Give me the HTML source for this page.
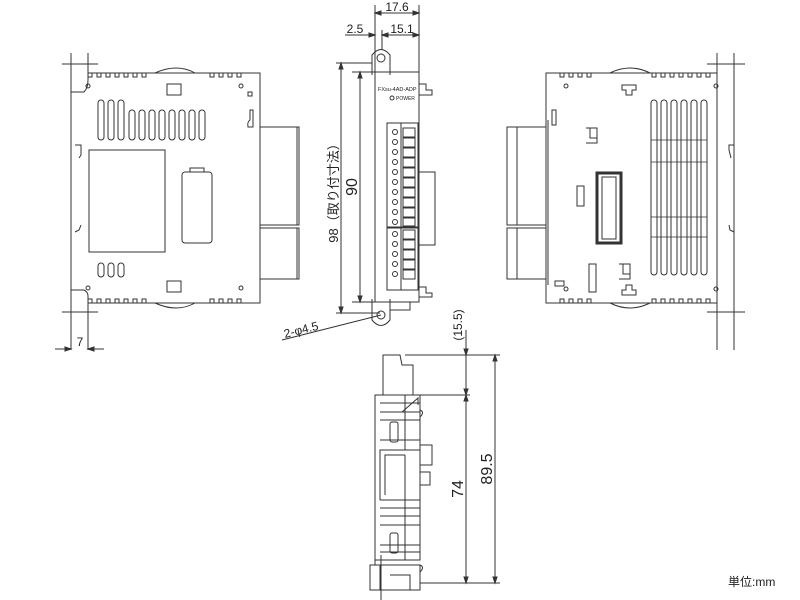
<!DOCTYPE html>
<html><head><meta charset="utf-8"><style>
html,body{margin:0;padding:0;background:#fff;width:800px;height:600px;overflow:hidden}
svg{display:block}
text{font-family:"Liberation Sans","Noto Sans CJK JP",sans-serif;fill:#222}
</style></head><body>
<svg width="800" height="600" viewBox="0 0 800 600" xmlns="http://www.w3.org/2000/svg">
<g fill="none" stroke="#333" stroke-width="1">
<!-- LEFT VIEW -->
<line x1="62" y1="64" x2="98" y2="64"/><line x1="62" y1="312" x2="98" y2="312"/>
<path d="M71 53 V350 M88 53 V80 M88 296 V350"/>
<path d="M71 92 H84 Q88 88 88 80 M71 290 H84 Q88 292 88 296"/>
<path d="M88 80 V73 H260 V303 H88 V296"/>
<path d="M75 145 H81 V155 L79 158 M75 232 L79 230 L81 225"/>
<path d="M155 73 Q177 63 195 73 M155 303 Q177 313 195 303"/>
<g>
<rect x="88" y="73" width="4" height="4"/><rect x="97" y="73" width="4" height="4"/><rect x="106" y="73" width="4" height="4"/><rect x="115" y="73" width="4" height="4"/><rect x="124" y="73" width="4" height="4"/><rect x="133" y="73" width="4" height="4"/><rect x="142" y="73" width="4" height="4"/>
<rect x="210" y="73" width="4" height="4"/><rect x="219" y="73" width="4" height="4"/><rect x="228" y="73" width="4" height="4"/><rect x="237" y="73" width="4" height="4"/>
<rect x="88" y="299" width="4" height="4"/><rect x="97" y="299" width="4" height="4"/><rect x="106" y="299" width="4" height="4"/><rect x="115" y="299" width="4" height="4"/><rect x="124" y="299" width="4" height="4"/><rect x="133" y="299" width="4" height="4"/><rect x="142" y="299" width="4" height="4"/>
<rect x="210" y="299" width="4" height="4"/><rect x="219" y="299" width="4" height="4"/><rect x="228" y="299" width="4" height="4"/><rect x="237" y="299" width="4" height="4"/>
</g>
<circle cx="88" cy="86" r="2"/><circle cx="241" cy="86" r="2"/><circle cx="88" cy="288" r="2"/><circle cx="241" cy="288" r="2"/>
<rect x="167" y="84" width="14" height="11"/><rect x="167" y="281" width="14" height="11"/>
<rect x="248" y="92" width="4" height="4"/><path d="M250 110 H253 V127 H248 Q247 122 250 120 Z"/>
<rect x="98" y="100" width="6" height="40" rx="3"/><rect x="108" y="100" width="6" height="40" rx="3"/><rect x="118" y="100" width="6" height="40" rx="3"/>
<rect x="129" y="110" width="6" height="30" rx="3"/><rect x="139" y="110" width="6" height="30" rx="3"/><rect x="149" y="110" width="6" height="30" rx="3"/><rect x="159" y="110" width="6" height="30" rx="3"/><rect x="169" y="110" width="6" height="30" rx="3"/><rect x="179" y="110" width="6" height="30" rx="3"/><rect x="189" y="110" width="6" height="30" rx="3"/><rect x="199" y="110" width="6" height="30" rx="3"/>
<rect x="89" y="150" width="76" height="102"/>
<rect x="182" y="172" width="30" height="71" rx="3"/><path d="M190 172 V168 H204 V172"/>
<rect x="98" y="263" width="6" height="14" rx="3"/><rect x="108" y="263" width="6" height="14" rx="3"/><rect x="118" y="263" width="6" height="14" rx="3"/>
<rect x="260" y="127" width="39" height="98"/><line x1="297" y1="127" x2="297" y2="225"/>
<rect x="260" y="228" width="39" height="51"/><line x1="297" y1="228" x2="297" y2="279"/>
<!-- dim 7 -->
<path d="M71 350 M55 349 H71 M88 349 H104"/>
<path d="M71 349 l-6 -2 v4 z M88 349 l6 -2 v4 z" fill="#333"/>

<!-- MIDDLE FRONT VIEW -->
<path d="M375 72 V302 H419 V72 Z"/>
<path d="M372 75 V55 Q381 44 390 55 V75"/><circle cx="381" cy="58" r="4"/>
<path d="M372 299 V320 Q381 331 390 320 V299"/><circle cx="381" cy="315" r="4"/>
<path d="M390 302 V310 H410 V302"/>
<path d="M419 84 H426 V90 H432 V95 H419"/><path d="M419 287 H426 V293 H432 V297 H419"/>
<rect x="387" y="123" width="31" height="104"/><line x1="401" y1="123" x2="401" y2="227"/>
<rect x="387" y="228" width="31" height="62"/><line x1="401" y1="228" x2="401" y2="290"/>
<g>
<circle cx="395" cy="132" r="2.5"/><circle cx="395" cy="142" r="2.5"/><circle cx="395" cy="152" r="2.5"/><circle cx="395" cy="162" r="2.5"/><circle cx="395" cy="172" r="2.5"/><circle cx="395" cy="182" r="2.5"/><circle cx="395" cy="192" r="2.5"/><circle cx="395" cy="202" r="2.5"/><circle cx="395" cy="212" r="2.5"/><circle cx="395" cy="222" r="2.5"/>
<circle cx="395" cy="234" r="2.5"/><circle cx="395" cy="244" r="2.5"/><circle cx="395" cy="254" r="2.5"/><circle cx="395" cy="264" r="2.5"/><circle cx="395" cy="274" r="2.5"/>
<rect x="403" y="128" width="12" height="9"/><rect x="403" y="138" width="12" height="9"/><rect x="403" y="148" width="12" height="9"/><rect x="403" y="158" width="12" height="9"/><rect x="403" y="168" width="12" height="9"/><rect x="403" y="178" width="12" height="9"/><rect x="403" y="188" width="12" height="9"/><rect x="403" y="198" width="12" height="9"/><rect x="403" y="208" width="12" height="9"/><rect x="403" y="218" width="12" height="8"/>
<rect x="403" y="230" width="12" height="9"/><rect x="403" y="240" width="12" height="9"/><rect x="403" y="250" width="12" height="9"/><rect x="403" y="260" width="12" height="9"/><rect x="403" y="270" width="12" height="9"/>
</g>
<path d="M419 172 H435 V245 H419"/>
<circle cx="392" cy="98" r="2"/>
<!-- dims -->
<path d="M375 5 V72 M419 5 V72 M375 13 H419 M382 35 H419 M345 35 H375 M382 30 V50"/>
<path d="M336 63 H372 M336 313 H380 M341 63 V313 M352 72 H375 M352 302 H375 M360 72 V302"/>
<path d="M341 63 l-2 6 h4 z M341 313 l-2 -6 h4 z M360 72 l-2 6 h4 z M360 302 l-2 -6 h4 z M375 13 l6 -2 v4 z M419 13 l-6 -2 v4 z M382 35 l6 -2 v4 z M419 35 l-6 -2 v4 z M375 35 l-6 -2 v4 z" fill="#333"/>
<path d="M282 340 L381 315"/>

<!-- BOTTOM VIEW -->
<path d="M383 355 H400 L402 365 H413 V395 H383 Z"/>
<path d="M375 395 H420 V560 H375 Z"/>
<path d="M370 565 H420 V590 H370 Z M375 560 V565 M380 565 V590 M390 575 H410 V590"/>
<path d="M402 412 L418 398 V405"/>
<path d="M380 403 H420 M380 412 H420 M380 420 H420 M380 440 H420 M380 450 H420 M380 500 H420 M380 508 H420 M380 516 H420 M380 525 H420 M380 545 H420 M380 552 H420"/>
<rect x="390" y="422" width="8" height="20" rx="2"/><rect x="390" y="533" width="8" height="20" rx="2"/>
<path d="M405 395 V450 H380 V500 M405 455 H385 V495 M405 455 V560"/>
<path d="M420 445 H432 V465 H420 M420 472 H430 V485 H420"/>
<path d="M420 410 q5 2 0 7 M420 565 q5 2 0 7"/>
<path d="M381 555 V600"/>
<path d="M405 355 H500 M420 395 H470 M420 583 H500 M466 330 V583 M495 355 V583"/>
<path d="M466 355 l-2 -6 h4 z M466 395 l-2 -6 h4 z M466 395 l-2 6 h4 z M466 583 l-2 -6 h4 z M495 355 l-2 6 h4 z M495 583 l-2 -6 h4 z" fill="#333"/>

<!-- RIGHT VIEW -->
<line x1="707" y1="64" x2="745" y2="64"/><line x1="707" y1="312" x2="745" y2="312"/>
<path d="M734 53 V350 M717 53 V80 M717 296 V350"/>
<path d="M546 73 H717 V303 H546 Z"/>
<path d="M734 145 H729 V150 L731 158 M734 232 L730 230 L729 225"/>
<path d="M610 73 Q630 63 650 73 M610 303 Q630 313 650 303"/>
<g>
<rect x="560" y="73" width="4" height="4"/><rect x="569" y="73" width="4" height="4"/><rect x="578" y="73" width="4" height="4"/><rect x="587" y="73" width="4" height="4"/>
<rect x="652" y="73" width="4" height="4"/><rect x="661" y="73" width="4" height="4"/><rect x="670" y="73" width="4" height="4"/><rect x="679" y="73" width="4" height="4"/><rect x="688" y="73" width="4" height="4"/><rect x="697" y="73" width="4" height="4"/><rect x="706" y="73" width="4" height="4"/>
<rect x="560" y="299" width="4" height="4"/><rect x="569" y="299" width="4" height="4"/><rect x="578" y="299" width="4" height="4"/><rect x="587" y="299" width="4" height="4"/>
<rect x="652" y="299" width="4" height="4"/><rect x="661" y="299" width="4" height="4"/><rect x="670" y="299" width="4" height="4"/><rect x="679" y="299" width="4" height="4"/><rect x="688" y="299" width="4" height="4"/><rect x="697" y="299" width="4" height="4"/><rect x="706" y="299" width="4" height="4"/>
</g>
<circle cx="566" cy="86" r="2"/><circle cx="716" cy="86" r="2"/><circle cx="566" cy="289" r="2"/><circle cx="716" cy="289" r="2"/>
<path d="M622 85 H636 V90 H632 V95 H626 V90 H622 Z"/><path d="M622 295 H636 V290 H632 V285 H626 V290 H622 Z"/>
<path d="M586 128 H597 V143 H586 M590 128 V138 H597"/>
<path d="M619 264 H630 V279 H619 M623 264 V274 H630"/>
<rect x="577" y="186" width="7" height="20"/><rect x="589" y="264" width="7" height="28"/>
<rect x="552" y="110" width="4" height="15"/><rect x="555" y="281" width="9" height="5"/>
<rect x="597" y="173" width="24" height="70" stroke-width="3"/><rect x="602" y="177" width="14" height="62"/>
<rect x="651" y="100" width="6" height="175" rx="3"/><rect x="661" y="100" width="6" height="175" rx="3"/><rect x="671" y="100" width="6" height="175" rx="3"/><rect x="681" y="100" width="6" height="175" rx="3"/><rect x="691" y="100" width="6" height="175" rx="3"/><rect x="701" y="100" width="6" height="175" rx="3"/>
<path d="M651 140 H707 M651 162 H707 M651 217 H707 M651 237 H707" stroke-width="0.7"/>
<rect x="507" y="127" width="39" height="98"/><line x1="517" y1="127" x2="517" y2="225"/>
<rect x="507" y="228" width="39" height="51"/><line x1="517" y1="228" x2="517" y2="279"/>
<line x1="548" y1="120" x2="548" y2="285"/>
</g>
<!-- text -->
<text x="397" y="11" font-size="12" text-anchor="middle">17.6</text>
<text x="402" y="33" font-size="12" text-anchor="middle">15.1</text>
<text x="355" y="33" font-size="12" text-anchor="middle">2.5</text>
<text x="80" y="346" font-size="12" text-anchor="middle">7</text>
<text font-size="13" transform="translate(338 190) rotate(-90)" text-anchor="middle">98（取り付寸法）</text>
<text font-size="16" transform="translate(357 187) rotate(-90)" text-anchor="middle">90</text>
<text font-size="12" transform="translate(285 338) rotate(-14)">2-φ4.5</text>
<text font-size="12" transform="translate(462 325) rotate(-90)" text-anchor="middle">(15.5)</text>
<text font-size="16" transform="translate(463 489) rotate(-90)" text-anchor="middle">74</text>
<text font-size="16" transform="translate(492 469) rotate(-90)" text-anchor="middle">89.5</text>
<text x="378" y="91" font-size="5.5">FXsu-4AD-ADP</text>
<text x="396" y="100" font-size="5">POWER</text>
<text x="728" y="586" font-size="12">単位:mm</text>
</svg>
</body></html>
